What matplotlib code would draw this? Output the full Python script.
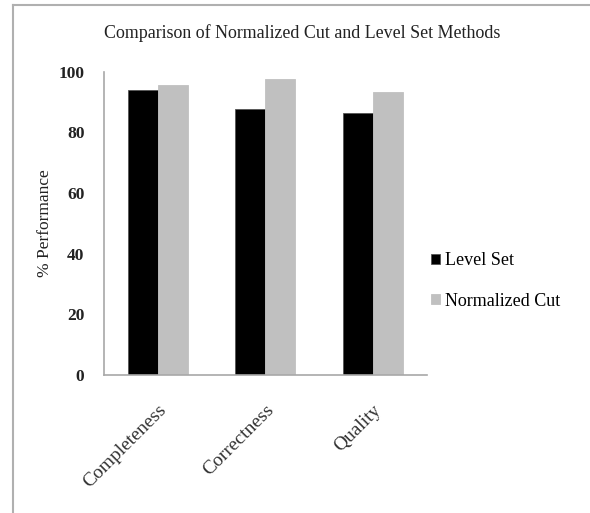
import numpy as np
import matplotlib
matplotlib.use("Agg")
import matplotlib.pyplot as plt
from matplotlib.lines import Line2D

# --- DATA ---
categories = ["Completeness", "Correctness", "Quality"]
level_set = [94.0, 87.9, 86.4]
normalized_cut = [95.6, 97.6, 93.2]
series_names = ["Level Set", "Normalized Cut"]
y_ticks = [0, 20, 40, 60, 80, 100]

plt.rcParams['font.family'] = ['Liberation Serif', 'DejaVu Serif']

fig = plt.figure(figsize=(5.9, 5.13), dpi=100)
ax = fig.add_axes([0.176, 0.269, 0.547, 0.591])

x = np.arange(len(categories))
width = 0.28
ax.bar(x - width / 2, level_set, width, color='#000000', edgecolor='#555555',
       linewidth=0.6, label=series_names[0])
ax.bar(x + width / 2, normalized_cut, width, color='#c0c0c0', edgecolor='#c0c0c0',
       linewidth=0.6, label=series_names[1])

ax.set_xlim(-0.5, 2.5)
ax.set_ylim(0, 100)
ax.set_yticks(y_ticks)
ax.set_yticklabels([str(t) for t in y_ticks], fontsize=12.5, fontweight='bold', color='#222222')
ax.set_xticks(x)
ax.set_xticklabels(categories, rotation=45, ha='right', rotation_mode='anchor',
                   fontsize=14, color='#333333')
ax.tick_params(axis='y', length=0, pad=14)
ax.tick_params(axis='x', length=0, pad=19)

for side in ['top', 'right']:
    ax.spines[side].set_visible(False)
for side in ['left', 'bottom']:
    ax.spines[side].set_color('#a8a8a8')
    ax.spines[side].set_linewidth(1.2)

ax.set_ylabel("% Performance", fontsize=12.5, color='#222222', labelpad=4)

fig.text(0.512, 0.935, "Comparison of Normalized Cut and Level Set Methods",
         ha='center', va='center', fontsize=12.9, color='#222222')

leg = ax.legend(loc='center left', bbox_to_anchor=(0.963, 0.31), frameon=False,
                fontsize=13, handlelength=0.5, handleheight=0.5,
                handletextpad=0.3, labelspacing=1.3)

# outer chart frame (left and top edges visible)
fig.add_artist(Line2D([13 / 590, 13 / 590], [0, 1 - 4.5 / 513],
                      transform=fig.transFigure, color='#b0b0b0', linewidth=1.5))
fig.add_artist(Line2D([13 / 590, 1], [1 - 4.5 / 513, 1 - 4.5 / 513],
                      transform=fig.transFigure, color='#b0b0b0', linewidth=1.5))

fig.savefig("out.png", dpi=100)
